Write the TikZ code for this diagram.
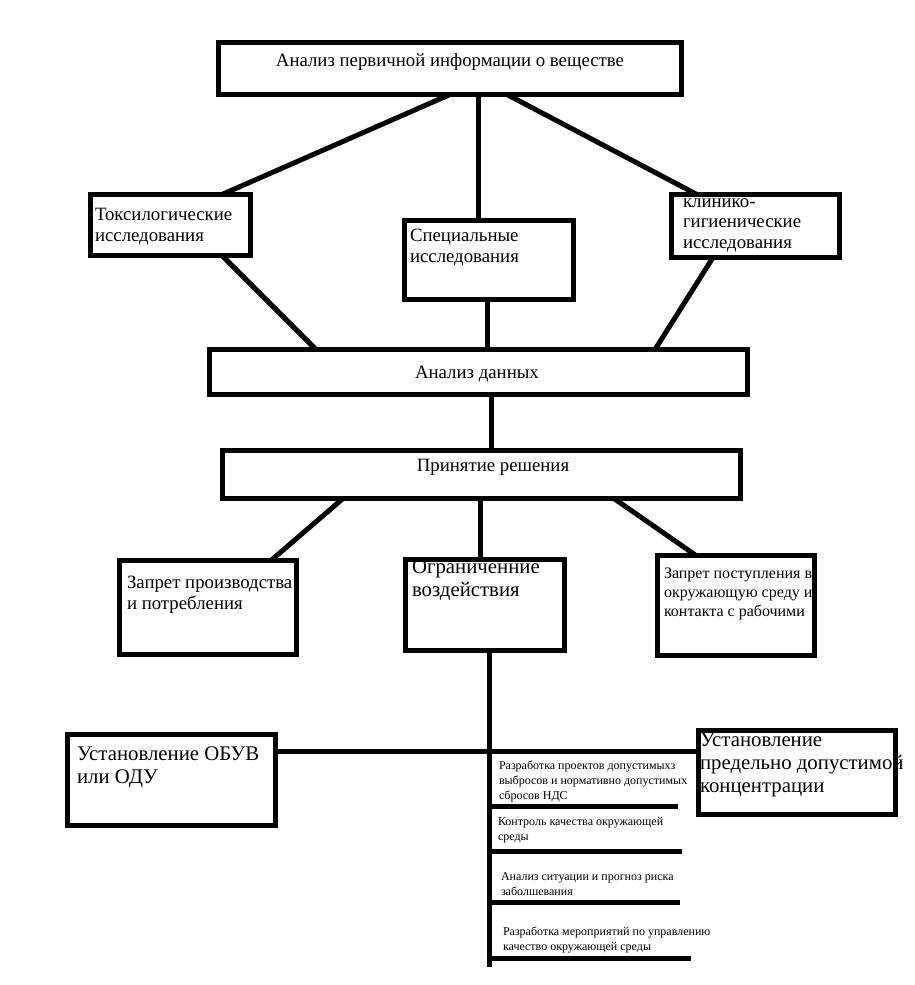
\documentclass[tikz,border=0pt]{standalone}
\usepackage{fontspec}
\setmainfont{Liberation Serif}
\usetikzlibrary{calc}
\begin{document}
\begin{tikzpicture}[x=1pt,y=-1pt,
  box/.style={draw,line width=5pt,inner sep=0pt,outer sep=0pt,fill=white},
  con/.style={line width=5pt},
  txt/.style={inner sep=0pt,outer sep=0pt,align=left,anchor=base west},
  ctxt/.style={inner sep=0pt,outer sep=0pt,anchor=base},
  fA/.style={font=\fontsize{18.8}{20.5}\selectfont},
  fB/.style={font=\fontsize{20.8}{23}\selectfont},
  fC/.style={font=\fontsize{16}{19}\selectfont},
  fD/.style={font=\fontsize{12}{15}\selectfont}]
\useasboundingbox[fill=white] (0,0) rectangle (914,985);
% boxes
\node[box,minimum width=463pt,minimum height=52pt] (top) at (450,68.5) {};
\node[box,minimum width=160pt,minimum height=61pt] (tox) at (170.5,225) {};
\node[box,minimum width=169pt,minimum height=79pt] (spec) at (489,260) {};
\node[box,minimum width=168pt,minimum height=63pt] (clin) at (755.5,226) {};
\node[box,minimum width=538pt,minimum height=45pt] (anal) at (478.5,372) {};
\node[box,minimum width=518pt,minimum height=48pt] (prin) at (481.5,474.5) {};
\node[box,minimum width=177pt,minimum height=94pt] (zap1) at (208,607.5) {};
\node[box,minimum width=159pt,minimum height=91pt] (ogr) at (485,605) {};
\node[box,minimum width=157pt,minimum height=100pt] (zap2) at (736,605.5) {};
\node[box,minimum width=208pt,minimum height=91pt] (obuv) at (171.5,780) {};
\node[box,minimum width=197pt,minimum height=84pt] (pdk) at (797,772.5) {};
% texts (base = baseline of the last line)
\node[ctxt,fA] (ttop) at (450,66) {Анализ первичной информации о веществе};
\node[txt,fA] (ttox) at (95,241) {Токсилогические\\исследования};
\node[txt,fA] (tspec) at (410,262) {Специальные\\исследования};
\node[txt,fA] (tclin) at (683,248) {клинико-\\гигиенические\\исследования};
\node[ctxt,fA] (tanal) at (477,378) {Анализ данных};
\node[ctxt,fA] (tprin) at (493,471) {Принятие решения};
\node[txt,fA] (tzap1) at (127,609) {Запрет производства\\и потребления};
\node[txt,fB] (togr) at (412,596) {Ограниченние\\воздействия};
\node[txt,fC] (tzap2) at (664,616) {Запрет поступления в\\окружающую среду и\\контакта с рабочими};
\node[txt,fB] (tobuv) at (77,783) {Установление ОБУВ\\или ОДУ};
\node[txt,fB] (tpdk) at (700,792) {Установление\\предельно допустимой\\концентрации};
\node[txt,fD] (tm1) at (499,799) {Разработка проектов допустимыхз\\выбросов и нормативно допустимых\\сбросов НДС};
\node[txt,fD] (tm2) at (498,840) {Контроль качества окружающей\\среды};
\node[txt,fD] (tm3) at (501,895) {Анализ ситуации и прогноз риска\\заболшевания};
\node[txt,fD] (tm4) at (503,950) {Разработка мероприятий по управлению\\качество окружающей среды};
% connectors
\draw[con] (top.south) -- ([xshift=51.5pt]tox.north);
\draw[con] ([xshift=28pt]top.south) -- ([xshift=-11pt]spec.north);
\draw[con] ([xshift=57pt]top.south) -- ([xshift=-58.5pt]clin.north);
\draw[con] ([xshift=51.5pt]tox.south) -- ([xshift=-162.5pt]anal.north);
\draw[con] ([xshift=-2pt]spec.south) -- ([xshift=8.5pt]anal.north);
\draw[con] ([xshift=-42.5pt]clin.south) -- ([xshift=176.5pt]anal.north);
\draw[con] ([xshift=12.5pt]anal.south) -- ([xshift=9.5pt]prin.north);
\draw[con] ([xshift=-138.5pt]prin.south) -- ([xshift=63pt]zap1.north);
\draw[con] ([xshift=-1.5pt]prin.south) -- ([xshift=-5pt]ogr.north);
\draw[con] ([xshift=132.5pt]prin.south) -- ([xshift=-40pt]zap2.north);
\coordinate (vbot) at (489,967);
\draw[con] ([xshift=4pt]ogr.south) -- (vbot);
\draw[con] ([yshift=29pt]obuv.east) -- ([yshift=21.5pt]pdk.west);
\coordinate (b1s) at (489,806); \coordinate (b1e) at (678,806);
\coordinate (b2s) at (489,851); \coordinate (b2e) at (682,851);
\coordinate (b3s) at (489,902); \coordinate (b3e) at (680,902);
\coordinate (b4s) at (489,958); \coordinate (b4e) at (691,958);
\draw[con] (b1s) -- (b1e);
\draw[con] (b2s) -- (b2e);
\draw[con] (b3s) -- (b3e);
\draw[con] (b4s) -- (b4e);
\end{tikzpicture}
\end{document}
